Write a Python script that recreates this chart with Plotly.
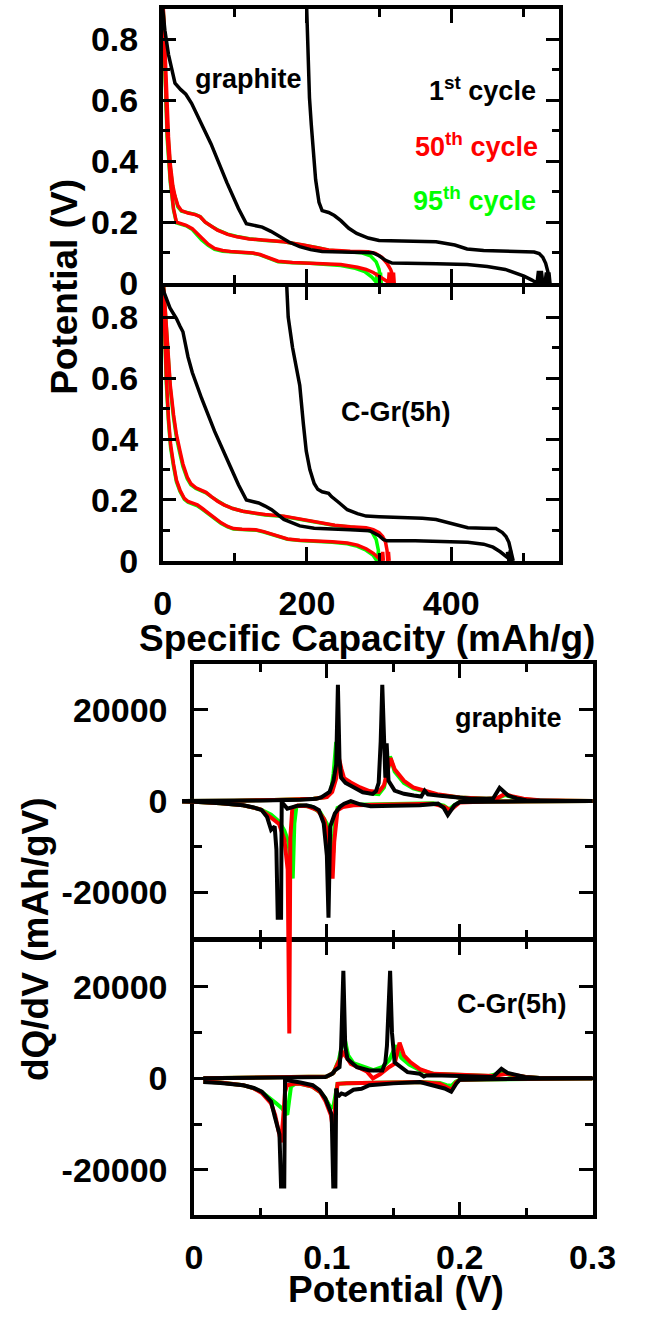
import plotly.graph_objects as go

# ================= DATA =================
# --- Potential vs specific capacity, graphite ---
gr_c1a_cap = [0, 3, 8, 17, 25, 32, 40, 50, 67, 89, 105, 116, 127, 138, 150, 160, 175, 190, 205, 221, 260, 291, 300, 309, 318, 335, 380, 422, 450, 475, 501, 512, 519, 521, 523, 525, 527]
gr_c1a_v = [0.9, 0.83, 0.75, 0.656, 0.635, 0.62, 0.59, 0.54, 0.457, 0.33, 0.245, 0.195, 0.19, 0.184, 0.17, 0.157, 0.135, 0.12, 0.11, 0.104, 0.102, 0.1, 0.09, 0.075, 0.066, 0.066, 0.064, 0.061, 0.055, 0.045, 0.023, 0.01, 0.0, 0.04, 0.0, 0.04, 0.0]
gr_c1b_cap = [199, 200, 201.5, 203.5, 206, 208, 212, 216.7, 221, 230, 238, 247, 258, 269, 285, 300, 335, 379, 405, 422, 445, 467, 500, 515, 522, 527, 531, 534, 536, 537, 535.5, 534, 532, 530]
gr_c1b_v = [0.95, 0.85, 0.7, 0.608, 0.52, 0.447, 0.34, 0.265, 0.238, 0.232, 0.222, 0.205, 0.18, 0.163, 0.148, 0.14, 0.137, 0.136, 0.125, 0.112, 0.107, 0.106, 0.104, 0.102, 0.097, 0.085, 0.065, 0.04, 0.02, 0.0, 0.035, 0.0, 0.035, 0.0]
gr_c50a_cap = [0, 3, 5, 8, 10.5, 14, 17, 21, 26, 35, 45, 52, 59, 68, 76, 90, 103, 120, 138, 168, 195, 215, 230, 260, 285, 295, 304, 311, 316, 319, 321, 320, 318, 317, 315]
gr_c50a_v = [0.95, 0.75, 0.6, 0.48, 0.39, 0.32, 0.286, 0.255, 0.238, 0.23, 0.225, 0.218, 0.2, 0.185, 0.174, 0.16, 0.152, 0.145, 0.141, 0.136, 0.125, 0.115, 0.109, 0.105, 0.103, 0.098, 0.085, 0.065, 0.045, 0.025, 0.0, 0.035, 0.0, 0.035, 0.0]
gr_c50b_cap = [0, 3, 6, 10.5, 15, 19, 25, 32.5, 41, 47, 54, 63, 72, 83, 94, 110, 125, 135, 142, 150, 160, 180, 203.5, 247, 270, 282, 292, 300, 308, 313, 314, 315, 316]
gr_c50b_v = [0.95, 0.7, 0.5, 0.34, 0.244, 0.2, 0.195, 0.19, 0.179, 0.165, 0.147, 0.128, 0.114, 0.107, 0.104, 0.102, 0.099, 0.094, 0.088, 0.08, 0.072, 0.068, 0.066, 0.061, 0.052, 0.045, 0.035, 0.023, 0.012, 0.003, 0.035, 0.0, 0.03]
gr_c95a_cap = [0, 3, 5, 8, 10.5, 14, 17, 21, 26, 35, 45, 52, 59, 68, 76, 90, 103, 120, 138, 168, 195, 215, 230, 255, 275, 288, 296, 300, 302, 303, 302, 300]
gr_c95a_v = [0.95, 0.74, 0.58, 0.46, 0.38, 0.31, 0.28, 0.25, 0.236, 0.23, 0.226, 0.218, 0.2, 0.186, 0.175, 0.161, 0.153, 0.146, 0.141, 0.136, 0.126, 0.116, 0.108, 0.104, 0.1, 0.09, 0.07, 0.045, 0.02, 0.0, 0.035, 0.0]
gr_c95b_cap = [0, 3, 6, 10.5, 15, 19, 25, 32.5, 41, 47, 54, 63, 72, 83, 94, 110, 125, 135, 142, 150, 160, 180, 203.5, 247, 265, 280, 290, 296, 297, 298]
gr_c95b_v = [0.95, 0.69, 0.48, 0.33, 0.24, 0.198, 0.193, 0.188, 0.176, 0.16, 0.142, 0.124, 0.111, 0.105, 0.103, 0.101, 0.098, 0.093, 0.086, 0.078, 0.07, 0.067, 0.065, 0.058, 0.05, 0.038, 0.02, 0.003, 0.035, 0.0]

# --- Potential vs specific capacity, C-Gr(5h) ---
cg_c1a_cap = [0, 2, 10, 19, 24, 28, 35, 41, 54, 72, 94, 105, 116, 125, 133, 142, 151, 168, 190, 210, 230, 260, 287, 300, 306, 311, 350, 379, 423, 445, 458, 468, 475, 480, 484, 482, 480, 478]
cg_c1a_v = [0.9, 0.88, 0.83, 0.795, 0.77, 0.752, 0.67, 0.618, 0.533, 0.425, 0.308, 0.25, 0.2, 0.195, 0.19, 0.18, 0.168, 0.136, 0.115, 0.107, 0.104, 0.102, 0.099, 0.083, 0.07, 0.066, 0.066, 0.065, 0.061, 0.055, 0.045, 0.03, 0.018, 0.008, 0.0, 0.035, 0.0, 0.03]
cg_c1b_cap = [171, 174, 180, 190, 195, 199, 204, 210, 215, 221, 230, 234, 245, 256, 270, 282, 300, 335, 360, 379, 405, 423, 445, 462, 471, 476, 480, 483, 485, 486]
cg_c1b_v = [0.95, 0.8, 0.7, 0.576, 0.45, 0.361, 0.3, 0.254, 0.235, 0.227, 0.222, 0.211, 0.19, 0.168, 0.155, 0.147, 0.145, 0.143, 0.14, 0.136, 0.12, 0.109, 0.107, 0.106, 0.093, 0.08, 0.061, 0.035, 0.008, 0.0]
cg_c50a_cap = [0, 4, 7, 10.5, 15, 19, 24, 28, 34, 39, 46, 54, 60, 67.5, 76, 85, 97, 111, 125, 142, 168, 185, 203.5, 220, 238.6, 260, 282, 292, 300, 305, 309, 311, 312, 313, 314]
cg_c50a_v = [0.95, 0.8, 0.68, 0.576, 0.48, 0.415, 0.36, 0.318, 0.275, 0.254, 0.24, 0.232, 0.225, 0.211, 0.196, 0.184, 0.172, 0.163, 0.157, 0.152, 0.147, 0.14, 0.131, 0.123, 0.117, 0.112, 0.109, 0.103, 0.093, 0.08, 0.061, 0.035, 0.0, 0.03, 0.0]
cg_c50b_cap = [0, 3, 5, 8, 11, 15, 19, 24, 30, 35, 42, 48, 55, 63, 72, 81, 90, 98, 110, 129, 140, 151, 162, 173, 190, 212, 235, 256, 270, 282, 292, 300, 304, 305, 306]
cg_c50b_v = [0.95, 0.7, 0.6, 0.468, 0.38, 0.318, 0.265, 0.232, 0.205, 0.195, 0.19, 0.184, 0.172, 0.158, 0.14, 0.125, 0.113, 0.106, 0.104, 0.102, 0.096, 0.088, 0.079, 0.072, 0.068, 0.066, 0.063, 0.059, 0.052, 0.04, 0.025, 0.008, 0.0, 0.03, 0.0]
cg_c95a_cap = [0, 4, 7, 10.5, 15, 19, 24, 28, 34, 39, 46, 54, 60, 67.5, 76, 85, 97, 111, 125, 142, 168, 185, 203.5, 220, 238.6, 260, 280, 290, 296, 299, 300, 299, 297]
cg_c95a_v = [0.95, 0.79, 0.67, 0.565, 0.47, 0.405, 0.35, 0.31, 0.27, 0.25, 0.238, 0.23, 0.223, 0.21, 0.196, 0.184, 0.172, 0.163, 0.157, 0.151, 0.146, 0.139, 0.13, 0.122, 0.116, 0.111, 0.105, 0.095, 0.07, 0.035, 0.0, 0.03, 0.0]
cg_c95b_cap = [0, 3, 5, 8, 11, 15, 19, 24, 30, 35, 42, 48, 55, 63, 72, 81, 90, 98, 110, 129, 140, 151, 162, 173, 190, 212, 235, 256, 270, 282, 292, 297, 298]
cg_c95b_v = [0.95, 0.69, 0.58, 0.455, 0.37, 0.31, 0.26, 0.228, 0.202, 0.193, 0.188, 0.181, 0.169, 0.155, 0.138, 0.123, 0.112, 0.105, 0.103, 0.101, 0.095, 0.087, 0.078, 0.071, 0.067, 0.065, 0.061, 0.056, 0.048, 0.035, 0.018, 0.0, 0.0]

# --- dQ/dV, graphite ---
gd_c1_chg_v = [-0.009, 0.0, 0.02, 0.05, 0.08, 0.092, 0.096, 0.102, 0.105, 0.107, 0.1083, 0.1095, 0.1107, 0.114, 0.118, 0.123, 0.127, 0.1345, 0.137, 0.139, 0.1405, 0.1417, 0.1428, 0.144, 0.145, 0.1464, 0.151, 0.158, 0.1655, 0.171, 0.1736, 0.176, 0.1836, 0.195, 0.2086, 0.225, 0.23, 0.2364, 0.243, 0.25, 0.26, 0.28, 0.3]
gd_c1_chg_q = [0, 0, 50, 150, 300, 500, 860, 2000, 4500, 8000, 25540, 9000, 5150, 4000, 3370, 2500, 1930, 1570, 2200, 4000, 13090, 25540, 12300, 5150, 12660, 4440, 2290, 1600, 1220, 1000, 2290, 1500, 1220, 800, 500, 500, 2900, 1220, 600, 200, 100, 0, 0]
gd_c1_dis_v = [-0.009, 0.0, 0.02, 0.037, 0.045, 0.051, 0.055, 0.058, 0.0607, 0.062, 0.063, 0.0655, 0.066, 0.0702, 0.078, 0.0845, 0.09, 0.094, 0.0976, 0.1, 0.1012, 0.1025, 0.106, 0.11, 0.113, 0.118, 0.125, 0.133, 0.15, 0.17, 0.1836, 0.188, 0.191, 0.196, 0.2, 0.22, 0.25, 0.3]
gd_c1_dis_q = [-100, -150, -500, -930, -1400, -2000, -3500, -6300, -5580, -10580, -25600, -25600, -200, -1650, -1000, -930, -1300, -2000, -4870, -12020, -25600, -5580, -2720, -1200, -570, 0, -700, -1140, -1000, -900, -570, -1500, -3070, -930, -200, -100, -50, 0]
gd_c50_chg_v = [-0.009, 0.0, 0.03, 0.06, 0.09, 0.1, 0.104, 0.107, 0.109, 0.111, 0.113, 0.118, 0.125, 0.132, 0.139, 0.143, 0.146, 0.148, 0.151, 0.158, 0.165, 0.175, 0.183, 0.2, 0.22, 0.228, 0.234, 0.24, 0.248, 0.26, 0.28, 0.3]
gd_c50_chg_q = [0, 0, 100, 250, 500, 900, 2000, 5000, 9500, 7000, 5000, 4080, 3000, 2200, 2000, 3500, 7500, 9440, 7000, 4440, 3000, 2200, 1500, 800, 500, 600, 1570, 1000, 500, 200, 0, 0]
gd_c50_dis_v = [-0.009, 0.0, 0.02, 0.037, 0.05, 0.058, 0.064, 0.068, 0.0705, 0.0717, 0.0725, 0.074, 0.078, 0.085, 0.093, 0.098, 0.101, 0.103, 0.1043, 0.1055, 0.108, 0.112, 0.12, 0.14, 0.16, 0.18, 0.188, 0.193, 0.197, 0.2, 0.22, 0.25, 0.3]
gd_c50_dis_q = [-100, -150, -500, -900, -1800, -3500, -5000, -8440, -15000, -51000, -8000, -1500, -1000, -1100, -2000, -4000, -8000, -13000, -17020, -9000, -2000, -1290, -900, -800, -700, -600, -1200, -2000, -1000, -300, -100, -50, 0]
gd_c95_chg_v = [-0.009, 0.0, 0.03, 0.06, 0.09, 0.1, 0.103, 0.105, 0.107, 0.109, 0.112, 0.118, 0.125, 0.132, 0.139, 0.143, 0.146, 0.1475, 0.151, 0.158, 0.165, 0.175, 0.183, 0.2, 0.22, 0.228, 0.234, 0.24, 0.248, 0.26, 0.3]
gd_c95_chg_q = [0, 0, 100, 250, 500, 900, 2000, 6000, 13000, 8000, 5000, 3500, 2500, 1700, 1500, 3000, 7000, 9800, 6500, 4000, 2800, 2000, 1400, 800, 500, 600, 1300, 900, 400, 150, 0]
gd_c95_dis_v = [-0.009, 0.0, 0.02, 0.037, 0.05, 0.058, 0.064, 0.068, 0.071, 0.0743, 0.0755, 0.077, 0.08, 0.088, 0.095, 0.1, 0.103, 0.1048, 0.106, 0.108, 0.112, 0.12, 0.14, 0.16, 0.18, 0.188, 0.192, 0.196, 0.2, 0.22, 0.3]
gd_c95_dis_q = [-100, -150, -500, -900, -1800, -3000, -4500, -6500, -9000, -17000, -5000, -1200, -1000, -1200, -2500, -5000, -8000, -11300, -4000, -1500, -1000, -800, -700, -600, -500, -1000, -1800, -900, -200, -100, 0]

# --- dQ/dV, C-Gr(5h) ---
cd_c1_chg_v = [0.007, 0.03, 0.06, 0.09, 0.0988, 0.104, 0.106, 0.1095, 0.1107, 0.1124, 0.1138, 0.1155, 0.1226, 0.132, 0.1417, 0.144, 0.1452, 0.1476, 0.149, 0.151, 0.1607, 0.17, 0.173, 0.175, 0.18, 0.2, 0.225, 0.2314, 0.236, 0.249, 0.26, 0.3]
cd_c1_chg_q = [0, 50, 100, 200, 280, 1000, 1720, 2430, 6720, 23540, 7080, 4220, 2430, 1720, 1720, 3500, 7080, 23540, 9940, 3500, 1350, 1000, 400, 640, 700, 500, 300, 2080, 1200, 280, 100, 0]
cd_c1_dis_v = [0.007, 0.02, 0.037, 0.045, 0.051, 0.058, 0.0607, 0.0643, 0.0655, 0.0679, 0.0685, 0.0702, 0.08, 0.0893, 0.0945, 0.0988, 0.1036, 0.1048, 0.1064, 0.107, 0.1085, 0.111, 0.114, 0.12, 0.126, 0.132, 0.15, 0.17, 0.1886, 0.1936, 0.1975, 0.2, 0.22, 0.25, 0.3]
cd_c1_dis_q = [-790, -1000, -1500, -2100, -2930, -5080, -8300, -12230, -23670, -23670, -300, -430, -900, -1500, -2600, -4360, -7940, -23670, -23670, -2210, -4000, -3300, -3600, -2500, -2300, -1500, -1100, -800, -2210, -2930, -1140, -300, -200, -100, 0]
cd_c50_chg_v = [0.007, 0.03, 0.06, 0.09, 0.1, 0.105, 0.109, 0.112, 0.115, 0.118, 0.125, 0.13, 0.1346, 0.14, 0.147, 0.151, 0.1547, 0.158, 0.163, 0.17, 0.18, 0.2, 0.225, 0.235, 0.24, 0.25, 0.26, 0.3]
cd_c50_chg_q = [0, 50, 100, 200, 400, 1200, 3500, 5650, 4500, 3150, 2200, 1500, 0, 900, 2500, 3200, 7790, 5000, 3500, 2000, 1000, 700, 500, 1000, 700, 300, 100, 0]
cd_c50_dis_v = [0.007, 0.02, 0.037, 0.045, 0.051, 0.058, 0.061, 0.064, 0.0655, 0.067, 0.0685, 0.07, 0.075, 0.08, 0.089, 0.095, 0.099, 0.103, 0.105, 0.1062, 0.108, 0.115, 0.13, 0.15, 0.17, 0.185, 0.19, 0.194, 0.197, 0.2, 0.22, 0.25, 0.3]
cd_c50_dis_q = [-700, -900, -1500, -2200, -3200, -5500, -8000, -12000, -14000, -9000, -3000, -1500, -1200, -1200, -1800, -3000, -5000, -8000, -12000, -6000, -1200, -1100, -1000, -900, -800, -1200, -2000, -2500, -1000, -300, -200, -100, 0]
cd_c95_chg_v = [0.007, 0.03, 0.06, 0.09, 0.1, 0.105, 0.109, 0.113, 0.116, 0.12, 0.127, 0.135, 0.142, 0.147, 0.152, 0.156, 0.162, 0.17, 0.18, 0.2, 0.222, 0.232, 0.24, 0.25, 0.26, 0.3]
cd_c95_chg_q = [0, 50, 100, 200, 400, 1200, 4000, 9230, 5000, 3300, 2500, 1800, 2500, 4000, 7200, 4500, 3000, 1800, 1000, 700, 500, 1200, 600, 300, 100, 0]
cd_c95_dis_v = [0.007, 0.02, 0.037, 0.045, 0.051, 0.058, 0.062, 0.066, 0.0702, 0.0715, 0.073, 0.076, 0.08, 0.089, 0.095, 0.099, 0.103, 0.105, 0.1065, 0.108, 0.115, 0.13, 0.15, 0.17, 0.185, 0.19, 0.194, 0.197, 0.2, 0.22, 0.3]
cd_c95_dis_q = [-700, -900, -1500, -2200, -3000, -4500, -5500, -6500, -7940, -5000, -1800, -1200, -1200, -1800, -3000, -4500, -6500, -6000, -3000, -1200, -1100, -1000, -900, -800, -1000, -1500, -1600, -700, -300, -200, 0]

# tick values / labels
cap_major = [0, 200, 400]
cap_minor = [100, 300, 500]
pot_major = [0, 0.2, 0.4, 0.6, 0.8]
pot_minor = [0.1, 0.3, 0.5, 0.7]
dv_major = [0, 0.1, 0.2, 0.3]
dv_major_txt = ["0", "0.1", "0.2", "0.3"]
dv_minor = [0.05, 0.15, 0.25]
dq_major = [-20000, 0, 20000]
dq_major_txt = ["-20000", "0", "20000"]
dq_minor = [-10000, 10000]

# ================= STYLE / LAYOUT =================
W, H = 646, 1338
BLACK, RED, GREEN = "#000000", "#ff0000", "#00ff00"
FONT = "Liberation Sans"
LW_TOP = 3.5
LW_BOT = 4
AX_LW = 3.5
HALF = AX_LW / 2   # so stacked frames share one line

# pixel frame of the panels
TX0, TX1 = 162, 580          # top panels (capacity)
T1Y0, T1Y1 = 9, 289 - HALF
T2Y0, T2Y1 = 289 + HALF, 569
BX0, BX1 = 195, 615          # bottom panels (dQ/dV)
B1Y0, B1Y1 = 674, 953 - HALF
B2Y0, B2Y1 = 953 + HALF, 1233
CAP_RANGE = [0, 550]
POT_RANGE = [0, 0.9]
DV_RANGE = [0, 0.3]
DQ_RANGE = [-30000, 30000]

def xd(a, b):
    return [a / W, b / W]

def yd(top, bot):
    return [1 - bot / H, 1 - top / H]

# overlay frame for graphite dQ/dV (traces run past the left edge and below the frame)
OX0 = 181
OY1 = 1062
pxv = (BX1 - BX0) / (DV_RANGE[1] - DV_RANGE[0])
pxq = (B1Y1 - B1Y0) / (DQ_RANGE[1] - DQ_RANGE[0])
O_XRANGE = [DV_RANGE[0] - (BX0 - OX0) / pxv, DV_RANGE[1]]
O_YRANGE = [DQ_RANGE[1] - (OY1 - B1Y0) / pxq, DQ_RANGE[1]]

fig = go.Figure()

def add(x, y, color, xa, ya, lw):
    fig.add_trace(go.Scatter(x=x, y=y, mode="lines", line=dict(color=color, width=lw),
                             xaxis=xa, yaxis=ya, showlegend=False, hoverinfo="skip"))

# panel 1 graphite
for x, y, c in [(gr_c95a_cap, gr_c95a_v, GREEN), (gr_c95b_cap, gr_c95b_v, GREEN),
                (gr_c50a_cap, gr_c50a_v, RED), (gr_c50b_cap, gr_c50b_v, RED),
                (gr_c1a_cap, gr_c1a_v, BLACK), (gr_c1b_cap, gr_c1b_v, BLACK)]:
    add(x, y, c, "x", "y", LW_TOP)
# panel 2 C-Gr
for x, y, c in [(cg_c95a_cap, cg_c95a_v, GREEN), (cg_c95b_cap, cg_c95b_v, GREEN),
                (cg_c50a_cap, cg_c50a_v, RED), (cg_c50b_cap, cg_c50b_v, RED),
                (cg_c1a_cap, cg_c1a_v, BLACK), (cg_c1b_cap, cg_c1b_v, BLACK)]:
    add(x, y, c, "x2", "y2", LW_TOP)
# panel 3 frame (empty trace so the frame is drawn)
fig.add_trace(go.Scatter(x=[None], y=[None], mode="lines", xaxis="x3", yaxis="y3",
                         showlegend=False, hoverinfo="skip"))
# panel 4 C-Gr dQ/dV
for x, y, c in [(cd_c95_chg_v, cd_c95_chg_q, GREEN), (cd_c95_dis_v, cd_c95_dis_q, GREEN),
                (cd_c50_chg_v, cd_c50_chg_q, RED), (cd_c50_dis_v, cd_c50_dis_q, RED),
                (cd_c1_chg_v, cd_c1_chg_q, BLACK), (cd_c1_dis_v, cd_c1_dis_q, BLACK)]:
    add(x, y, c, "x4", "y4", LW_BOT)
# panel 3 graphite dQ/dV (overlay frame)
for x, y, c in [(gd_c95_chg_v, gd_c95_chg_q, GREEN), (gd_c95_dis_v, gd_c95_dis_q, GREEN),
                (gd_c50_chg_v, gd_c50_chg_q, RED), (gd_c50_dis_v, gd_c50_dis_q, RED),
                (gd_c1_chg_v, gd_c1_chg_q, BLACK), (gd_c1_dis_v, gd_c1_dis_q, BLACK)]:
    add(x, y, c, "x5", "y5", LW_BOT)

tickfont = dict(family=FONT, size=34, color=BLACK, weight="bold")

def axis(domain, rng, major, minor, labels, anchor, ticktext=None, standoff=14):
    d = dict(domain=domain, range=rng, anchor=anchor, showgrid=False, zeroline=False,
             showline=True, linecolor=BLACK, linewidth=AX_LW, mirror="allticks",
             ticks="inside", ticklen=14, tickwidth=3, tickcolor=BLACK,
             tickmode="array", tickvals=major, showticklabels=labels,
             tickfont=tickfont, ticklabelstandoff=standoff,
             minor=dict(tickmode="array", tickvals=minor, ticks="inside", ticklen=8,
                        tickwidth=3, tickcolor=BLACK, showgrid=False))
    if ticktext is not None:
        d["ticktext"] = ticktext
    return d

hidden = dict(visible=False, showgrid=False, zeroline=False)

fig.update_layout(
    width=W, height=H, margin=dict(l=0, r=0, t=0, b=0),
    paper_bgcolor="white", plot_bgcolor="rgba(0,0,0,0)",
    xaxis=axis(xd(TX0, TX1), CAP_RANGE, cap_major, cap_minor, False, "y"),
    yaxis=axis(yd(T1Y0, T1Y1), POT_RANGE, pot_major, pot_minor, True, "x"),
    xaxis2=axis(xd(TX0, TX1), CAP_RANGE, cap_major, cap_minor, True, "y2", standoff=10),
    yaxis2=axis(yd(T2Y0, T2Y1), POT_RANGE, pot_major, pot_minor, True, "x2"),
    xaxis3=axis(xd(BX0, BX1), DV_RANGE, dv_major, dv_minor, False, "y3", dv_major_txt),
    yaxis3=axis(yd(B1Y0, B1Y1), DQ_RANGE, dq_major, dq_minor, True, "x3", dq_major_txt, standoff=16),
    xaxis4=axis(xd(BX0, BX1), DV_RANGE, dv_major, dv_minor, True, "y4", dv_major_txt, standoff=9),
    yaxis4=axis(yd(B2Y0, B2Y1), DQ_RANGE, dq_major, dq_minor, True, "x4", dq_major_txt, standoff=16),
    xaxis5=dict(hidden, domain=xd(OX0, BX1), range=O_XRANGE, anchor="y5"),
    yaxis5=dict(hidden, domain=yd(B1Y0, OY1), range=O_YRANGE, anchor="x5"),
)

def note(text, px, py, size, color=BLACK, xanchor="center", angle=0):
    fig.add_annotation(text=text, x=px / W, y=1 - py / H, xref="paper", yref="paper",
                       xanchor=xanchor, yanchor="middle", showarrow=False, textangle=angle,
                       font=dict(family=FONT, size=size, color=color, weight="bold"))

note("graphite", 252, 80, 27)
note("1<sup>st</sup> cycle", 558, 90, 27, BLACK, "right")
note("50<sup>th</sup> cycle", 560, 147, 27, RED, "right")
note("95<sup>th</sup> cycle", 558, 202, 27, GREEN, "right")
note("C-Gr(5h)", 408, 418, 27)
note("graphite", 526, 728, 27)
note("C-Gr(5h)", 530, 1018, 27)
note("Potential (V)", 59, 291, 37, angle=-90)
note("Specific Capacity (mAh/g)", 377, 648, 37)
note("dQ/dV (mAh/gV)", 28, 953, 37, angle=-90)
note("Potential (V)", 408, 1308, 37)

fig.write_html("out.html")
